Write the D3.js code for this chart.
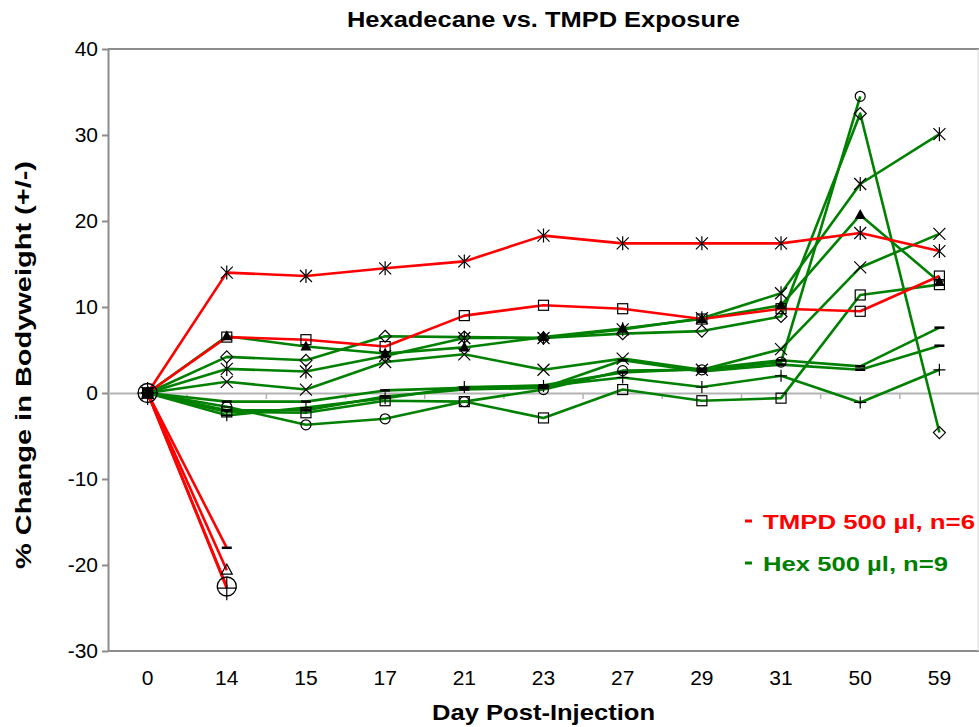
<!DOCTYPE html>
<html>
<head>
<meta charset="utf-8">
<script src="https://cdn.jsdelivr.net/npm/d3@7"></script>
<style>
  body { margin: 0; background: #fff; }
  svg { display: block; font-family: Arial, "Liberation Sans", sans-serif; }
</style>
</head>
<body>
<svg id="chart" width="979" height="727"></svg>
<script>
// categories (day post-injection)
const days = ['0', '14', '15', '17', '21', '23', '27', '29', '31', '50', '59'];
const yTicks = [-30, -20, -10, 0, 10, 20, 30, 40];

// TMPD 500 ul, n=6 (red)
const tmpdStar     = [0, 14.0, 13.6, 14.5, 15.3, 18.3, 17.4, 17.4, 17.4, 18.6, 16.5];
const tmpdSquare   = [0, 6.5, 6.2, 5.4, 9.0, 10.2, 9.8, 8.6, 9.8, 9.5, 13.6];
const tmpdDash     = [0, -18.0, null, null, null, null, null, null, null, null, null];
const tmpdTriangle = [0, -20.6, null, null, null, null, null, null, null, null, null];
const tmpdCircle   = [0, -22.5, null, null, null, null, null, null, null, null, null];
const tmpdPlus     = [0, -22.7, null, null, null, null, null, null, null, null, null];

// Hex 500 ul, n=9 (green)
const hexTriangle = [0, 6.6, 5.4, 4.6, 5.3, 6.5, 7.5, 8.6, 10.2, 20.7, 12.9];
const hexDiamond  = [0, 4.2, 3.8, 6.6, 6.5, 6.4, 6.9, 7.2, 8.9, 32.5, -4.6];
const hexStar     = [0, 2.8, 2.5, 4.3, 6.4, 6.4, 7.4, 8.7, 11.6, 24.3, 30.1];
const hexX        = [0, 1.3, 0.4, 3.6, 4.5, 2.7, 4.0, 2.7, 5.1, 14.6, 18.5];
const hexCircle   = [0, -1.6, -3.7, -3.0, -1.0, 0.4, 2.6, 2.7, 3.6, 34.5, null];
const hexSquare   = [0, -2.2, -2.3, -0.9, -1.0, -2.9, 0.4, -0.9, -0.6, 11.4, 12.6];
const hexPlus     = [0, -2.6, -1.7, -0.6, 0.7, 0.8, 1.8, 0.7, 2.0, -1.1, 2.7];
const hexDash1    = [0, -1.0, -1.0, 0.3, 0.6, 0.9, 2.4, 2.8, 3.8, 3.1, 7.6];
const hexDash2    = [0, -2.0, -2.0, -0.4, 0.4, 0.6, 3.8, 2.5, 3.3, 2.7, 5.5];

const RED = '#ff0000', GREEN = '#008000';
const FONT = 'Arial, "Liberation Sans", sans-serif';

// green first so the red lines sit on top
const series = [
  { values: hexTriangle, color: GREEN, marker: 'triangleFilled' },
  { values: hexDiamond,  color: GREEN, marker: 'diamond' },
  { values: hexStar,     color: GREEN, marker: 'star' },
  { values: hexX,        color: GREEN, marker: 'x' },
  { values: hexCircle,   color: GREEN, marker: 'circle' },
  { values: hexSquare,   color: GREEN, marker: 'square' },
  { values: hexPlus,     color: GREEN, marker: 'plus' },
  { values: hexDash1,    color: GREEN, marker: 'dash' },
  { values: hexDash2,    color: GREEN, marker: 'dash' },
  { values: tmpdStar,     color: RED, marker: 'star' },
  { values: tmpdSquare,   color: RED, marker: 'square' },
  { values: tmpdDash,     color: RED, marker: 'dash' },
  { values: tmpdTriangle, color: RED, marker: 'triangle' },
  { values: tmpdCircle,   color: RED, marker: 'bigCircle' },
  { values: tmpdPlus,     color: RED, marker: 'bigPlus' }
];

const svg = d3.select('#chart');
const plotLeft = 108, plotRight = 979, plotTop = 49, plotBottom = 651;

const x = d3.scaleBand().domain(days).range([plotLeft, plotRight]).padding(0);
const y = d3.scaleLinear().domain([-30, 40]).range([plotBottom, plotTop]);
const cx = d => x(d) + x.bandwidth() / 2;

// frame
svg.append('line').attr('x1', plotLeft).attr('x2', plotRight).attr('y1', plotTop).attr('y2', plotTop)
  .attr('stroke', '#8c8c8c').attr('stroke-width', 2);
svg.append('line').attr('x1', plotLeft).attr('x2', plotRight).attr('y1', plotBottom).attr('y2', plotBottom)
  .attr('stroke', '#8c8c8c').attr('stroke-width', 2);
svg.append('line').attr('x1', plotRight - 1).attr('x2', plotRight - 1).attr('y1', plotTop).attr('y2', plotBottom)
  .attr('stroke', '#d8d8d8').attr('stroke-width', 1);

// y axis (plain hyphen for negatives, like the original)
let yAxis = svg.append('g')
  .attr('transform', `translate(${plotLeft},0)`)
  .call(d3.axisLeft(y).tickValues(yTicks).tickFormat(d => String(d))
    .tickSize(6).tickPadding(4).tickSizeOuter(0));
yAxis.select('.domain').attr('stroke', '#8c8c8c').attr('stroke-width', 2);
yAxis.selectAll('.tick line').attr('stroke', '#8c8c8c').attr('stroke-width', 2);
yAxis.selectAll('.tick text').attr('font-size', 21).attr('fill', '#000')
  .attr('font-family', FONT);

// zero line with category ticks
let zeroAxis = svg.append('g')
  .attr('transform', `translate(0,${y(0)})`)
  .call(d3.axisBottom(x).tickSize(0).tickFormat(''));
zeroAxis.select('.domain').attr('stroke', '#b4b4b4').attr('stroke-width', 2);
zeroAxis.selectAll('.tick').remove();
zeroAxis.selectAll('.sep')
  .data(days.slice(1))
  .enter().append('line')
  .attr('class', 'sep')
  .attr('x1', d => x(d)).attr('x2', d => x(d))
  .attr('y1', 0).attr('y2', 6)
  .attr('stroke', '#b4b4b4').attr('stroke-width', 1.5);

// x labels along the bottom
let xAxis = svg.append('g')
  .attr('transform', `translate(0,${plotBottom})`)
  .call(d3.axisBottom(x).tickSize(0).tickPadding(19));
xAxis.select('.domain').remove();
xAxis.selectAll('.tick text').attr('font-size', 21).attr('fill', '#000')
  .attr('font-family', FONT);

// lines
const line = d3.line()
  .defined(d => d.v != null)
  .x(d => cx(d.day))
  .y(d => y(d.v));

const toPoints = s => s.values.map((v, i) => ({ day: days[i], v: v }));

svg.append('g').selectAll('path')
  .data(series)
  .enter().append('path')
  .attr('d', s => line(toPoints(s)))
  .attr('fill', 'none')
  .attr('stroke', s => s.color)
  .attr('stroke-width', 2.6)
  .attr('stroke-linejoin', 'round');

// markers
function drawMarker(g, type) {
  let k = 'black';
  switch (type) {
    case 'square':
      g.append('rect').attr('x', -5).attr('y', -5).attr('width', 10).attr('height', 10)
        .attr('fill', 'none').attr('stroke', k).attr('stroke-width', 1.2);
      break;
    case 'diamond':
      g.append('path').attr('d', 'M0,-6L6,0L0,6L-6,0Z')
        .attr('fill', 'none').attr('stroke', k).attr('stroke-width', 1.2);
      break;
    case 'triangleFilled':
      g.append('path').attr('d', 'M0,-6L5.5,4L-5.5,4Z').attr('fill', k);
      break;
    case 'triangle':
      g.append('path').attr('d', 'M0,-6L5.5,4L-5.5,4Z')
        .attr('fill', 'none').attr('stroke', k).attr('stroke-width', 1.2);
      break;
    case 'x':
      g.append('path').attr('d', 'M-6,-6L6,6M-6,6L6,-6')
        .attr('stroke', k).attr('stroke-width', 1.2);
      break;
    case 'star':
      g.append('path').attr('d', 'M-6,-6L6,6M-6,6L6,-6M0,-7L0,7')
        .attr('stroke', k).attr('stroke-width', 1.2);
      break;
    case 'circle':
      g.append('circle').attr('r', 5)
        .attr('fill', 'none').attr('stroke', k).attr('stroke-width', 1.2);
      break;
    case 'bigCircle':
      g.append('circle').attr('r', 9.5)
        .attr('fill', 'none').attr('stroke', k).attr('stroke-width', 1.3);
      break;
    case 'plus':
      g.append('path').attr('d', 'M-6,0L6,0M0,-6L0,6')
        .attr('stroke', k).attr('stroke-width', 1.2);
      break;
    case 'bigPlus':
      g.append('path').attr('d', 'M-10,0L10,0M0,-11L0,12')
        .attr('stroke', k).attr('stroke-width', 1.2);
      break;
    case 'dash':
      g.append('path').attr('d', 'M-5,0L5,0')
        .attr('stroke', k).attr('stroke-width', 2.5);
      break;
  }
}

series.forEach(s => {
  svg.append('g').selectAll('g')
    .data(toPoints(s).filter(d => d.v != null))
    .enter().append('g')
    .attr('transform', d => `translate(${cx(d.day)},${y(d.v)})`)
    .each(function() { drawMarker(d3.select(this), s.marker); });
});

// titles
svg.append('text')
  .attr('x', 347).attr('y', 27)
  .attr('textLength', 393).attr('lengthAdjust', 'spacingAndGlyphs')
  .attr('font-size', 22).attr('font-weight', 'bold')
  .text('Hexadecane vs. TMPD Exposure');

svg.append('text')
  .attr('x', 432).attr('y', 720)
  .attr('textLength', 223).attr('lengthAdjust', 'spacingAndGlyphs')
  .attr('font-size', 22).attr('font-weight', 'bold')
  .text('Day Post-Injection');

svg.append('text')
  .attr('transform', 'translate(31,569) rotate(-90)')
  .attr('textLength', 408).attr('lengthAdjust', 'spacingAndGlyphs')
  .attr('font-size', 22).attr('font-weight', 'bold')
  .text('% Change in Bodyweight (+/-)');

// legend
const legend = [
  { label: 'TMPD 500 µl, n=6', color: RED, y: 521, w: 212 },
  { label: 'Hex 500 µl, n=9', color: GREEN, y: 563, w: 185 }
];
let lg = svg.append('g').selectAll('g').data(legend).enter().append('g');
lg.append('line')
  .attr('x1', 745).attr('x2', 752)
  .attr('y1', d => d.y).attr('y2', d => d.y)
  .attr('stroke', d => d.color).attr('stroke-width', 3);
lg.append('text')
  .attr('x', 763).attr('y', d => d.y + 7.5)
  .attr('textLength', d => d.w).attr('lengthAdjust', 'spacingAndGlyphs')
  .attr('font-size', 21).attr('font-weight', 'bold')
  .attr('fill', d => d.color)
  .text(d => d.label);
</script>
</body>
</html>
